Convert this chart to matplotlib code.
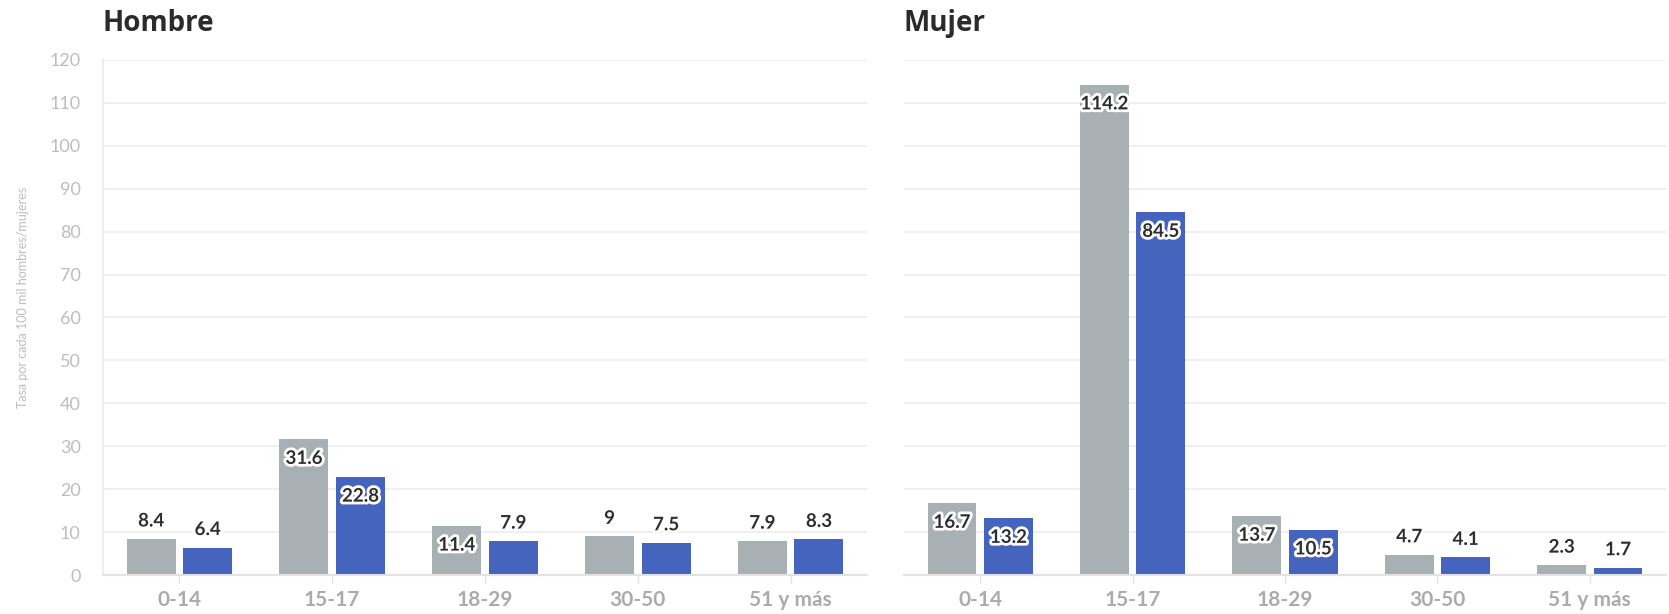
import matplotlib.pyplot as plt
import matplotlib.patheffects as pe
import numpy as np

# data
grupos = ["0-14", "15-17", "18-29", "30-50", "51 y más"]
hombre_gris = [8.4, 31.6, 11.4, 9, 7.9]
hombre_azul = [6.4, 22.8, 7.9, 7.5, 8.3]
mujer_gris = [16.7, 114.2, 13.7, 4.7, 2.3]
mujer_azul = [13.2, 84.5, 10.5, 4.1, 1.7]
yticks = list(range(0, 121, 10))

gris = "#a9b0b3"
azul = "#4564be"

plt.rcParams['font.family'] = ['Lato', 'DejaVu Sans']

fig = plt.figure(figsize=(16.69, 6.14), dpi=100)
ax1 = fig.add_axes([0.0617, 0.0635, 0.4578, 0.8388])
ax2 = fig.add_axes([0.5416, 0.0635, 0.4566, 0.8388])

w = 0.32
off = 0.185


def fmt(v):
    return ("%g" % v)


def draw(ax, titulo, g, b, show_y):
    x = np.arange(len(grupos))
    ax.bar(x - off, g, width=w, color=gris, zorder=2)
    ax.bar(x + off, b, width=w, color=azul, zorder=2)
    ax.set_xlim(-0.5, len(grupos) - 0.5)
    ax.set_ylim(0, 120)
    ax.set_yticks(yticks)
    ax.grid(axis='y', color='#ececec', linewidth=1.2, zorder=0)
    for s in ["top", "right", "left"]:
        ax.spines[s].set_visible(False)
    ax.spines["bottom"].set_color("#e3e3e3")
    ax.spines["bottom"].set_linewidth(1.5)
    if show_y:
        ax.spines["left"].set_visible(True)
        ax.spines["left"].set_color("#eeeeee")
        ax.spines["left"].set_linewidth(1.5)
        ax.tick_params(axis='y', length=0, pad=16, labelsize=13, labelcolor="#bdbdbd")
    else:
        ax.tick_params(axis='y', length=0, labelleft=False)
    ax.set_xticks(x)
    ax.set_xticklabels(grupos, fontweight='bold')
    ax.tick_params(axis='x', length=6, width=1, color="#e3e3e3", pad=5,
                   labelsize=15, labelcolor="#ababab")
    ax.text(0.0, 1.07, titulo, transform=ax.transAxes, fontsize=20,
            fontweight='bold', color="#2b2b2b", va='center', ha='left',
            family=['Open Sans', 'DejaVu Sans'])
    halo = [pe.withStroke(linewidth=4, foreground='white')]
    for xi, vals, o in [(x, g, -off), (x, b, off)]:
        for i, v in enumerate(vals):
            if v >= 10:
                ax.annotate(fmt(v), (xi[i] + o, v), xytext=(0, -19),
                            textcoords='offset pixels', ha='center', va='center',
                            fontsize=13.5, fontweight='bold', color='#2e2e2e',
                            path_effects=halo, zorder=4)
            else:
                ax.annotate(fmt(v), (xi[i] + o, v), xytext=(0, 18),
                            textcoords='offset pixels', ha='center', va='center',
                            fontsize=13.5, fontweight='bold', color='#2e2e2e',
                            path_effects=halo, zorder=4)


draw(ax1, "Hombre", hombre_gris, hombre_azul, True)
draw(ax2, "Mujer", mujer_gris, mujer_azul, False)

fig.text(0.0135, 0.516, "Tasa por cada 100 mil hombres/mujeres", rotation=90,
         fontsize=9, color="#bdbdbd", ha='center', va='center')

fig.savefig("out.png", dpi=100)
